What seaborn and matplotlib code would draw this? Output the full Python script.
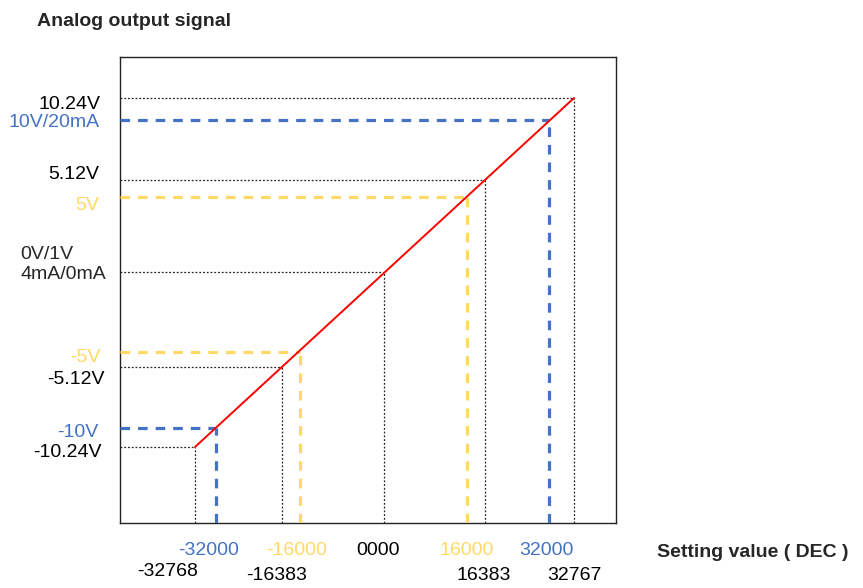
import numpy as np
import pandas as pd
import matplotlib
matplotlib.use("Agg")
import matplotlib.pyplot as plt
import seaborn as sns

# Dados do gráfico (valor de ajuste DEC -> sinal de saída)
x_black = [-32768, -16383, 0, 16383, 32767]
y_black = [-10.24, -5.12, 0, 5.12, 10.24]
x_blue = [-32000, 32000]
y_blue = [-10, 10]
x_yellow = [-16000, 16000]
y_yellow = [-5, 5]

y_tick_labels = ["10.24V", "10V/20mA", "5.12V", "5V", "-5V", "-5.12V", "-10V", "-10.24V"]
y_tick_values = [10.24, 10, 5.12, 5, -5, -5.12, -10, -10.24]
y_tick_colors = ["black", "blue", "black", "yellow", "yellow", "black", "blue", "black"]

x_tick_labels = ["-32000", "-16000", "0000", "16000", "32000",
                 "-32768", "-16383", "16383", "32767"]
x_tick_values = [-32000, -16000, 0, 16000, 32000, -32768, -16383, 16383, 32767]
x_tick_colors = ["blue", "yellow", "black", "yellow", "blue",
                 "black", "black", "black", "black"]

# Escala esquemática (não proporcional): posição em pixels de cada valor
x_scale_vals = [-40000, -32768, -32000, -16383, -16000, 0, 16000, 16383, 32000, 32767, 40000]
x_scale_pos = [120, 195, 216, 282, 300, 384, 467, 485, 549, 574, 616]
y_scale_vals = [-12, -10.24, -10, -5.12, -5, 0, 5, 5.12, 10, 10.24, 12]
y_scale_pos = [-523, -447, -428, -367, -352, -272, -197, -180, -120, -98, -57]

cores = {"black": "black", "blue": "#4472C4", "yellow": "#FFD966"}

sns.set_style("white")
plt.rcParams["font.family"] = ["Liberation Sans", "DejaVu Sans"]

fig = plt.figure(figsize=(8.63, 5.88), dpi=100)
ax = fig.add_axes([120 / 863, 1 - 523 / 588, 496 / 863, 466 / 588])

ax.set_xscale("function", functions=(lambda v: np.interp(v, x_scale_vals, x_scale_pos),
                                     lambda p: np.interp(p, x_scale_pos, x_scale_vals)))
ax.set_yscale("function", functions=(lambda v: np.interp(v, y_scale_vals, y_scale_pos),
                                     lambda p: np.interp(p, y_scale_pos, y_scale_vals)))
ax.set_xlim(-40000, 40000)
ax.set_ylim(-12, 12)
x0, y0 = -40000, -12

# Linhas de referência pontilhadas (pretas)
ax.hlines(y_black, x0, x_black, colors="#222222", linestyles=(0, (1.5, 1.5)), lw=0.9, zorder=2)
ax.vlines(x_black, y0, y_black, colors="#222222", linestyles=(0, (1.5, 1.5)), lw=0.9, zorder=2)

# Linhas tracejadas coloridas
for xs, ys, c in [(x_blue, y_blue, cores["blue"]), (x_yellow, y_yellow, cores["yellow"])]:
    ax.hlines(ys, x0, xs, colors=c, linestyles=(0, (3, 2.5)), lw=2.3, zorder=3)
    ax.vlines(xs, y0, ys, colors=c, linestyles=(0, (3, 2.5)), lw=2.3, zorder=3)

# Reta de saída
df = pd.DataFrame({"dec": [x_black[0], x_black[-1]], "sinal": [y_black[0], y_black[-1]]})
sns.lineplot(data=df, x="dec", y="sinal", color="#FF0000", lw=1.4, ax=ax, zorder=4)

ax.set_xticks([])
ax.set_yticks([])
ax.set_xlabel("")
ax.set_ylabel("")
for s in ax.spines.values():
    s.set_color("#222222")
    s.set_linewidth(1.0)

# Rótulos do eixo Y
y_offsets = [(-20, -11), (-20, -7), (-21, 1), (-21, -13), (-20, -10), (-15, -17), (-22, -9), (-18, -10)]
for lab, v, c, off in zip(y_tick_labels, y_tick_values, y_tick_colors, y_offsets):
    ax.annotate(lab, xy=(0, v), xycoords=("axes fraction", "data"), xytext=off,
                textcoords="offset pixels", ha="right", va="baseline",
                fontsize=14, color=cores[c], annotation_clip=False)
ax.annotate("0V/1V", xy=(0, 0), xycoords=("axes fraction", "data"), xytext=(-100, 13),
            textcoords="offset pixels", ha="left", va="baseline", fontsize=14,
            annotation_clip=False)
ax.annotate("4mA/0mA", xy=(0, 0), xycoords=("axes fraction", "data"), xytext=(-100, -7),
            textcoords="offset pixels", ha="left", va="baseline", fontsize=14,
            annotation_clip=False)

# Rótulos do eixo X
x_offsets = [(-7, -32), (-3, -32), (-6, -32), (0, -32), (-3, -32),
             (3, -53), (-5, -57), (-1, -57), (0, -57)]
for lab, v, c, off in zip(x_tick_labels, x_tick_values, x_tick_colors, x_offsets):
    ax.annotate(lab, xy=(v, 0), xycoords=("data", "axes fraction"), xytext=off,
                textcoords="offset pixels", ha="right" if lab == "-32768" else "center",
                va="baseline", fontsize=14, color=cores[c], annotation_clip=False)

fig.text(37 / 863, 1 - 26 / 588, "Analog output signal", fontsize=14, fontweight="bold",
         ha="left", va="baseline")
fig.text(657 / 863, 1 - 557 / 588, "Setting value ( DEC )", fontsize=14, fontweight="bold",
         ha="left", va="baseline")

fig.savefig("out.png", dpi=100)
